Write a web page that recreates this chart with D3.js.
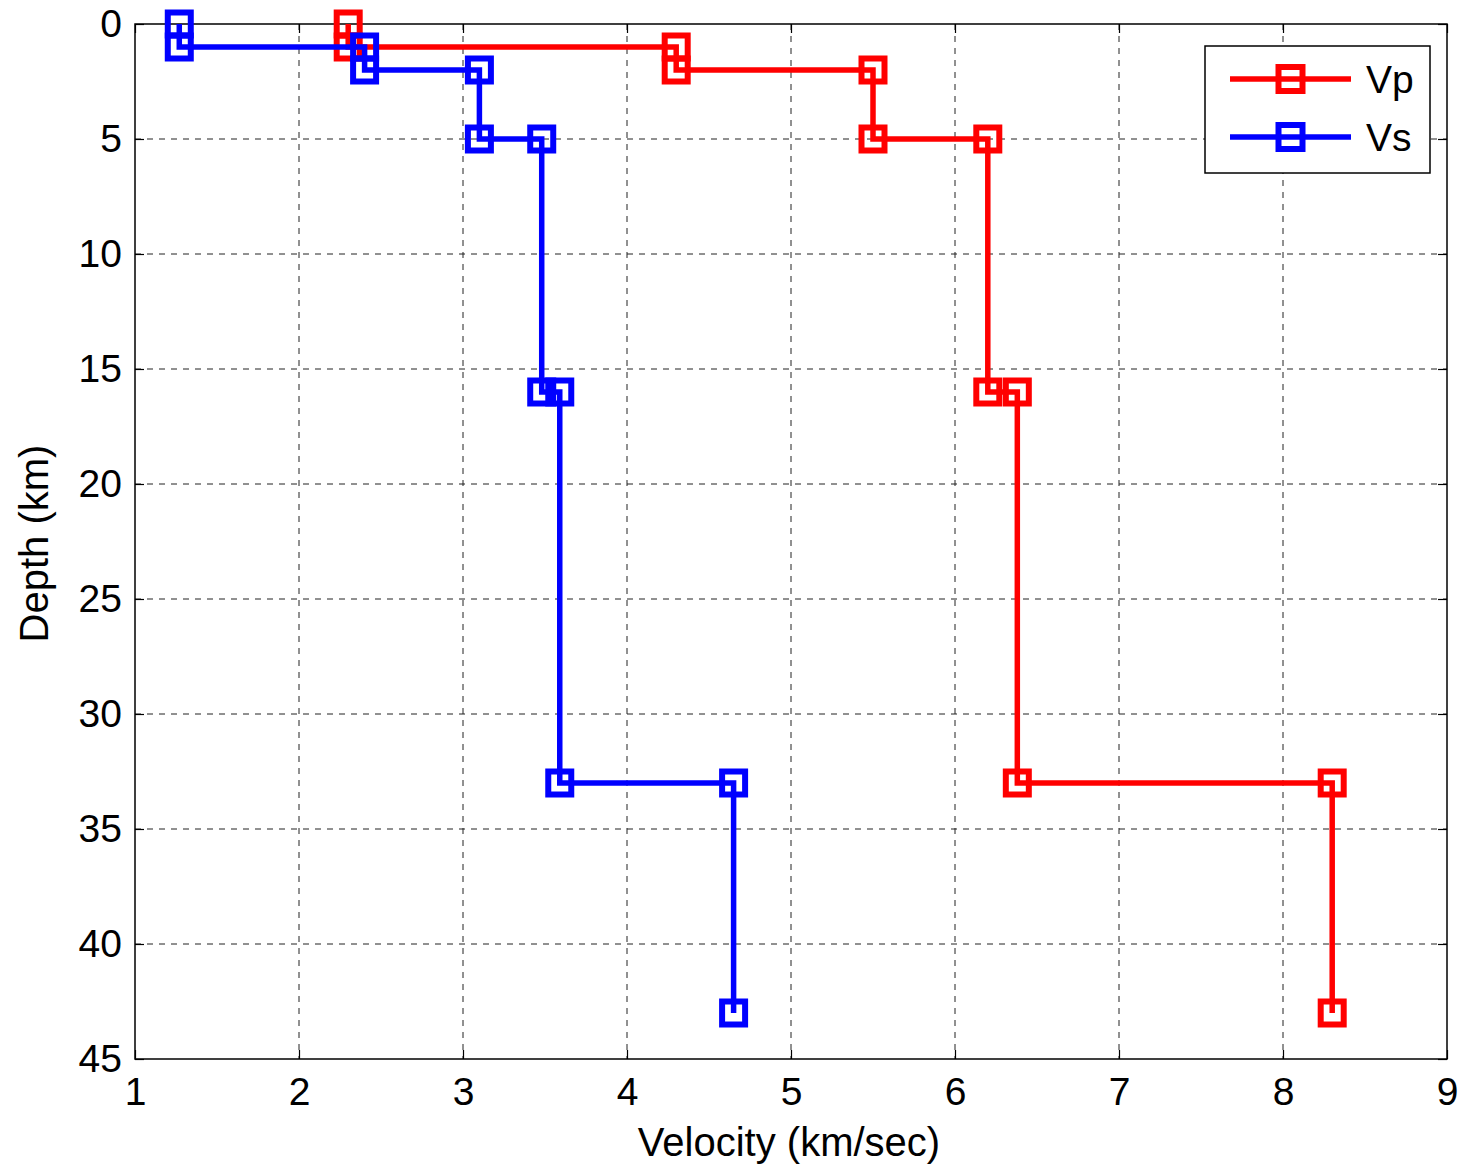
<!DOCTYPE html>
<html lang="en">
<head>
<meta charset="UTF-8">
<title>Velocity profile</title>
<script src="https://d3js.org/d3.v7.min.js"></script>
<style>
  body { margin: 0; background: #fff; }
  text { font-family: "Liberation Sans", Arial, sans-serif; fill: #000; }
</style>
</head>
<body>
<script>
// ---- data ----
var vpVel   = [2.3, 2.3, 4.3, 4.3, 5.5, 5.5, 6.2, 6.2, 6.38, 6.38, 8.3, 8.3];
var vpDepth = [0, 1, 1, 2, 2, 5, 5, 16, 16, 33, 33, 43];
var vsVel   = [1.27, 1.27, 2.4, 2.4, 3.1, 3.1, 3.48, 3.48, 3.59, 3.59, 4.65, 4.65];
var vsDepth = [0, 1, 1, 2, 2, 5, 5, 16, 16, 33, 33, 43];
var xTicks = [1, 2, 3, 4, 5, 6, 7, 8, 9];
var yTicks = [0, 5, 10, 15, 20, 25, 30, 35, 40, 45];
var seriesNames = ["Vp", "Vs"];
var seriesColors = ["#ff0000", "#0000ff"];

// ---- canvas ----
var W = 1466, H = 1169;
var margin = { top: 24, left: 135, right: 19, bottom: 110 };
var width = W - margin.left - margin.right;
var height = H - margin.top - margin.bottom;

var svg = d3.select("body").append("svg").attr("width", W).attr("height", H);
var g = svg.append("g").attr("transform", "translate(" + margin.left + "," + margin.top + ")");

var x = d3.scaleLinear().domain([1, 9]).range([0, width]);
var y = d3.scaleLinear().domain([0, 45]).range([0, height]);

// grid
g.append("g").selectAll("line").data(xTicks.slice(1, -1)).enter().append("line")
  .attr("x1", d => x(d)).attr("x2", d => x(d)).attr("y1", 0).attr("y2", height)
  .attr("stroke", "#222").attr("stroke-width", 1).attr("stroke-dasharray", "6,6");
g.append("g").selectAll("line").data(yTicks.slice(1, -1)).enter().append("line")
  .attr("y1", d => y(d)).attr("y2", d => y(d)).attr("x1", 0).attr("x2", width)
  .attr("stroke", "#222").attr("stroke-width", 1).attr("stroke-dasharray", "6,6");

// axes (ticks pointing inward, MATLAB style)
var xAxis = d3.axisBottom(x).tickValues(xTicks).tickSizeInner(-9).tickSizeOuter(0).tickPadding(18);
var yAxis = d3.axisLeft(y).tickValues(yTicks).tickSizeInner(-9).tickSizeOuter(0).tickPadding(13);
var gx = g.append("g").attr("transform", "translate(0," + height + ")").call(xAxis);
var gy = g.append("g").call(yAxis);
g.append("g").call(d3.axisTop(x).tickValues(xTicks).tickSizeInner(-9).tickSizeOuter(0).tickFormat(""));
g.append("g").attr("transform", "translate(" + width + ",0)")
  .call(d3.axisRight(y).tickValues(yTicks).tickSizeInner(-9).tickSizeOuter(0).tickFormat(""));
g.selectAll(".domain").remove();
g.selectAll(".tick line").attr("stroke", "#000").attr("stroke-width", 1.2);
[gx, gy].forEach(a => a.selectAll("text").style("font-size", "39px").attr("fill", "#000"));
gx.selectAll("text").attr("dy", "0.71em");
g.append("rect").attr("width", width).attr("height", height)
  .attr("fill", "none").attr("stroke", "#000").attr("stroke-width", 1.5);

// axis labels
svg.append("text").attr("x", margin.left + width / 2 - 2).attr("y", 1156)
  .attr("text-anchor", "middle").style("font-size", "40px").text("Velocity (km/sec)");
svg.append("text").attr("transform", "translate(48," + (margin.top + height / 2 + 2) + ") rotate(-90)")
  .attr("text-anchor", "middle").style("font-size", "40px").text("Depth (km)");

// series
var series = [
  { vel: vpVel, depth: vpDepth },
  { vel: vsVel, depth: vsDepth }
];
var line = d3.line().x(d => x(d[0])).y(d => y(d[1]));
var msize = 23;
series.forEach(function (s, i) {
  var pts = s.vel.map((v, k) => [v, s.depth[k]]);
  g.append("path").datum(pts).attr("d", line)
    .attr("fill", "none").attr("stroke", seriesColors[i]).attr("stroke-width", 5.5);
  g.selectAll(".m" + i).data(pts).enter().append("rect").attr("class", "m" + i)
    .attr("x", d => x(d[0]) - msize / 2).attr("y", d => y(d[1]) - msize / 2)
    .attr("width", msize).attr("height", msize)
    .attr("fill", "none").attr("stroke", seriesColors[i]).attr("stroke-width", 6);
});

// legend
var lg = svg.append("g").attr("transform", "translate(1205,46)");
lg.append("rect").attr("width", 225).attr("height", 127)
  .attr("fill", "#fff").attr("stroke", "#000").attr("stroke-width", 1.5);
seriesNames.forEach(function (name, i) {
  var yy = 33 + i * 58;
  lg.append("line").attr("x1", 25).attr("x2", 146).attr("y1", yy).attr("y2", yy)
    .attr("stroke", seriesColors[i]).attr("stroke-width", 5.5);
  lg.append("rect").attr("x", 85.5 - 12).attr("y", yy - 12).attr("width", 24).attr("height", 24)
    .attr("fill", "none").attr("stroke", seriesColors[i]).attr("stroke-width", 6);
  lg.append("text").attr("x", 161).attr("y", yy + 14).style("font-size", "39px").text(name);
});
</script>
</body>
</html>
